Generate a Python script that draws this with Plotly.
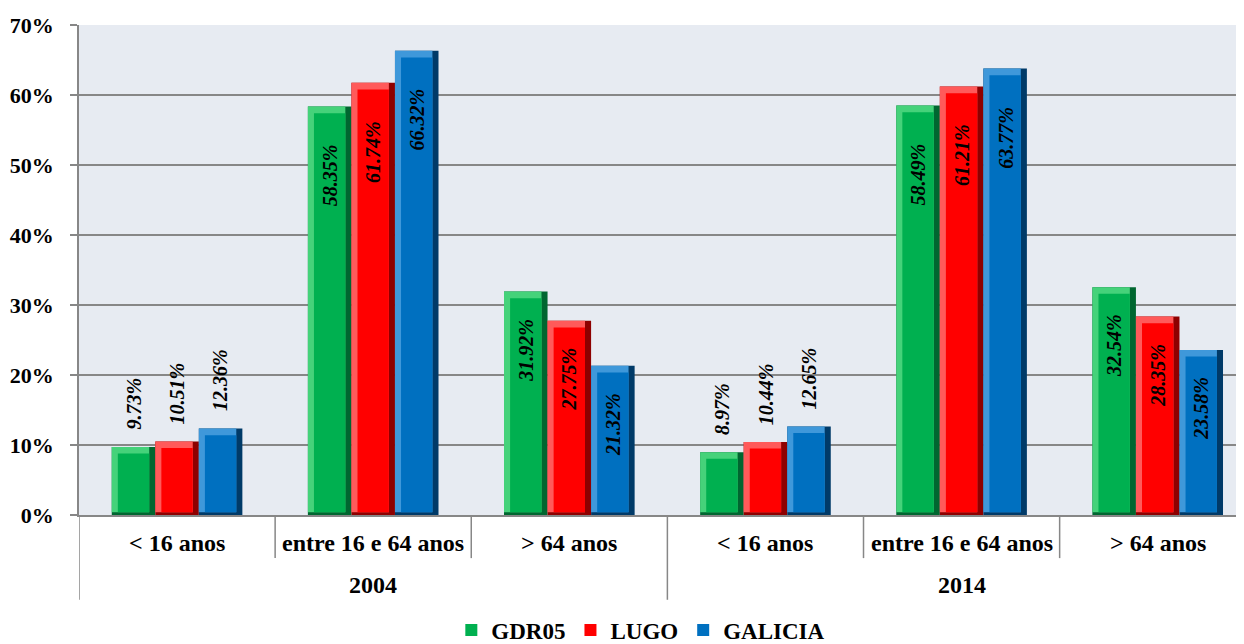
import plotly.graph_objects as go

# ---------------- data ----------------
years = ["2004", "2014"]
age_groups = ["< 16 anos", "entre 16 e 64 anos", "> 64 anos"]
series_names = ["GDR05", "LUGO", "GALICIA"]
gdr05 = [9.73, 58.35, 31.92, 8.97, 58.49, 32.54]
lugo = [10.51, 61.74, 27.75, 10.44, 61.21, 28.35]
galicia = [12.36, 66.32, 21.32, 12.65, 63.77, 23.58]
y_ticks = [0, 10, 20, 30, 40, 50, 60, 70]
y_tick_labels = ["0%", "10%", "20%", "30%", "40%", "50%", "60%", "70%"]

# ---------------- styling ----------------
FONT = "'Times New Roman', 'Liberation Serif', 'DejaVu Serif', serif"
face_colors = ["#00B050", "#FF0000", "#0070C0"]
dark_colors = ["#006630", "#8E0000", "#003A68"]
light_colors = ["#45D27A", "#FF5A5A", "#3F98DA"]
BAR_W = 0.222
EDGE_X = 0.031   # ~6 px in category units
EDGE_Y = 0.95    # ~7 px in %
BOT_Y = 0.4
GRID = "#878787"
# pixel gap between bar top and inside label, per age group position
INSIDE_GAP = [25, 36, 25]
OUTSIDE_GAP = 15

categories = [a for _ in years for a in age_groups]
ncat = len(categories)
values = [gdr05, lugo, galicia]
n = len(age_groups)

fig = go.Figure()

for k, (name, vals) in enumerate(zip(series_names, values)):
    xs = [i + (k - 1) * BAR_W for i in range(ncat)]
    # dark outer (right/bottom edge)
    fig.add_trace(go.Bar(x=xs, y=vals, width=BAR_W, marker=dict(color=dark_colors[k], line=dict(width=0)),
                         showlegend=False, hoverinfo="skip"))
    # light bevel (top/left)
    fig.add_trace(go.Bar(x=[x - EDGE_X / 2 for x in xs], y=[v - BOT_Y for v in vals], base=[BOT_Y] * ncat,
                         width=BAR_W - EDGE_X, marker=dict(color=light_colors[k], line=dict(width=0)),
                         showlegend=False, hoverinfo="skip"))
    # main face
    fig.add_trace(go.Bar(x=xs, y=[v - EDGE_Y - BOT_Y for v in vals], base=[BOT_Y] * ncat,
                         width=BAR_W - 2 * EDGE_X, marker=dict(color=face_colors[k], line=dict(width=0)),
                         name=name, hoverinfo="skip"))
    # value labels
    for i, (x, v) in enumerate(zip(xs, vals)):
        inside = v >= 15
        fig.add_annotation(x=x, y=v, xref="x", yref="y", text=f"{v:.2f}%", textangle=-90,
                           showarrow=False, yanchor="top" if inside else "bottom",
                           yshift=-INSIDE_GAP[i % n] if inside else OUTSIDE_GAP,
                           font=dict(family=FONT, size=20, color="black", weight="bold", style="italic"))

# category labels
for i, c in enumerate(categories):
    fig.add_annotation(x=i, y=-0.057, xref="x", yref="paper", text=c, showarrow=False,
                       yanchor="middle", font=dict(family=FONT, size=24, color="black", weight="bold"))
# year labels
for g, yr in enumerate(years):
    fig.add_annotation(x=g * n + (n - 1) / 2, y=-0.143, xref="x", yref="paper", text=yr, showarrow=False,
                       yanchor="middle", font=dict(family=FONT, size=24, color="black", weight="bold"))

# dividers
for g in range(len(years)):
    for j in range(1, n):
        xd = g * n + j - 0.5
        fig.add_shape(type="line", xref="x", yref="paper", x0=xd, x1=xd, y0=0, y1=-0.088,
                      line=dict(color=GRID, width=1.5))
    xg = g * n - 0.5
    fig.add_shape(type="line", xref="x", yref="paper", x0=xg, x1=xg, y0=0, y1=-0.173,
                  line=dict(color=GRID, width=1.5))

fig.update_layout(
    width=1236, height=636,
    margin=dict(l=71, r=0, t=17, b=129, autoexpand=False),
    barmode="overlay",
    plot_bgcolor="#E7EBF2",
    paper_bgcolor="white",
    font=dict(family=FONT, color="black"),
    legend=dict(orientation="h", xref="container", yref="container", x=0.512, xanchor="center",
                y=0.022, yanchor="middle", font=dict(family=FONT, size=23, color="black", weight="bold"),
                itemwidth=30, tracegroupgap=0),
    xaxis=dict(range=[-0.5, 5.44], showticklabels=False, showgrid=False, zeroline=False,
               showline=True, linecolor=GRID, linewidth=1.5, ticks="", automargin=False),
    yaxis=dict(range=[0, 70], tickvals=y_ticks, ticktext=y_tick_labels, showgrid=True,
               gridcolor=GRID, gridwidth=1.5, zeroline=False, showline=True, linecolor=GRID,
               linewidth=1.5, ticks="outside", ticklen=7, tickcolor=GRID, tickwidth=1.5,
               ticklabelstandoff=12, automargin=False,
               tickfont=dict(family=FONT, size=22, color="black", weight="bold")),
)

fig.write_html("out.html")
